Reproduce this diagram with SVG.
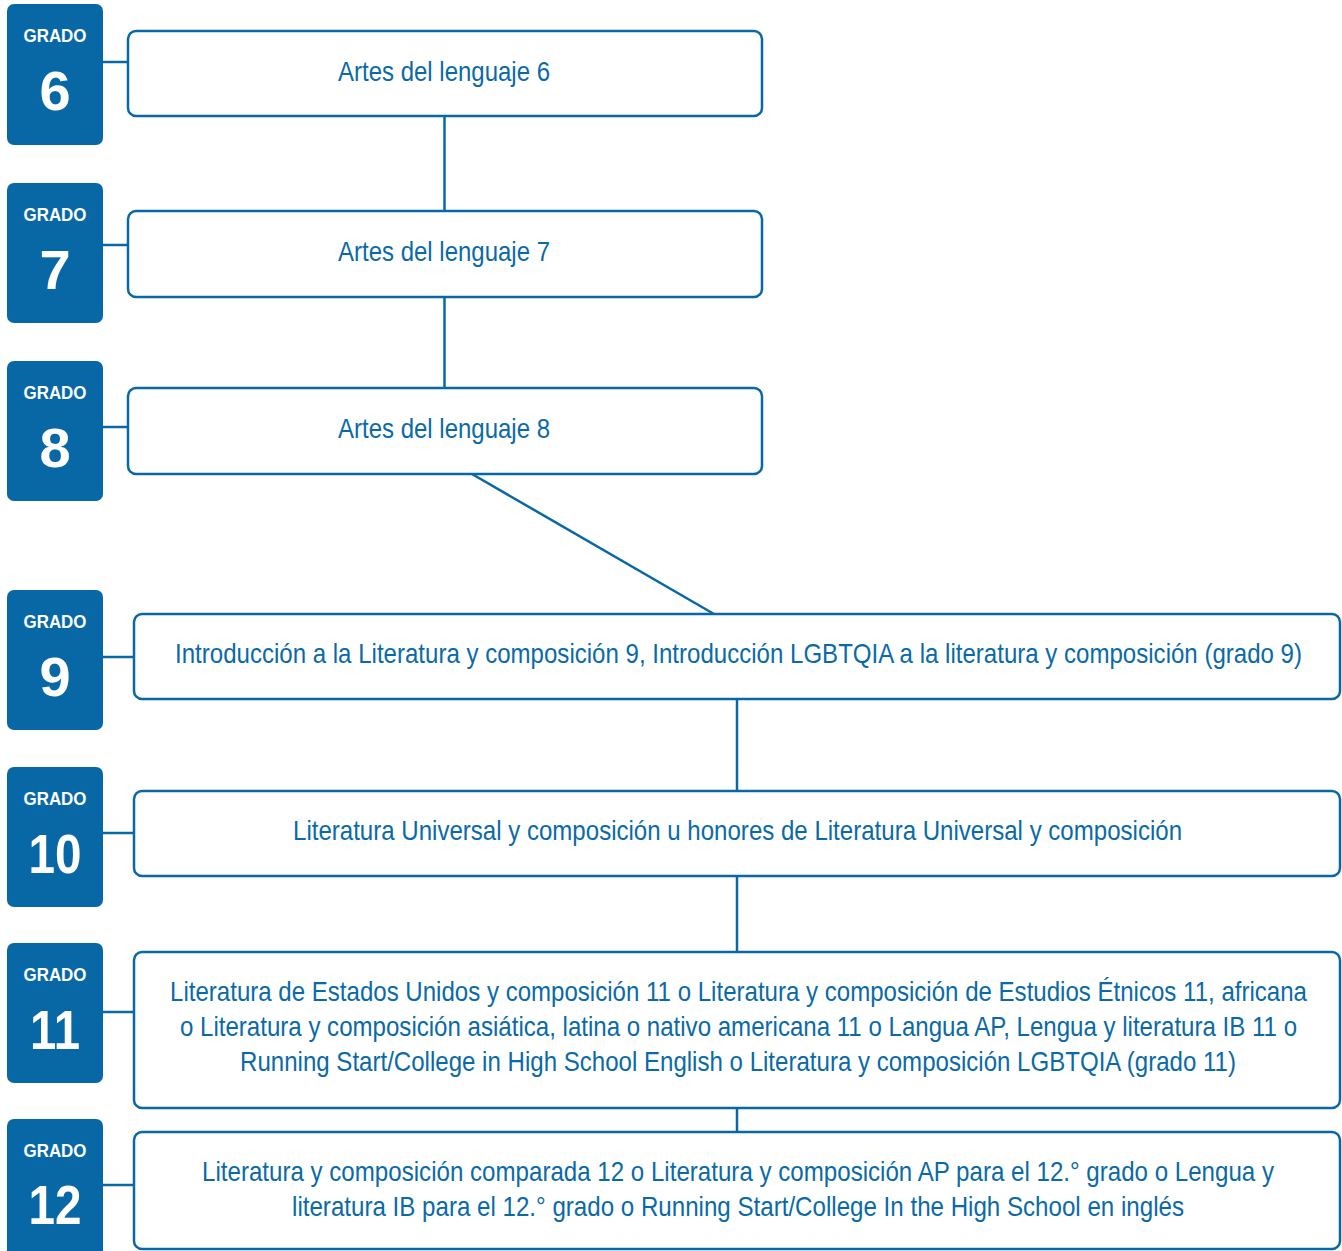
<svg xmlns="http://www.w3.org/2000/svg" width="1342" height="1251" viewBox="0 0 1342 1251">
<style>
.badge{fill:#0868a6}
.box{fill:#fff;stroke:#0868a6;stroke-width:2.5}
.con{stroke:#0868a6;stroke-width:2.5;fill:none}
.gr{font-family:"Liberation Sans",Arial,sans-serif;font-weight:bold;font-size:18px;fill:#fff;text-anchor:middle}
.num{font-family:"Liberation Sans",Arial,sans-serif;font-weight:bold;font-size:56px;fill:#fff;text-anchor:middle}
.t{font-family:"Liberation Sans",Arial,sans-serif;font-size:27px;fill:#0a6aa8;text-anchor:middle}
</style>
<rect width="1342" height="1251" fill="#fff"/>
<g id="connectors">
<line class="con" x1="103" y1="62" x2="128" y2="62"/>
<line class="con" x1="103" y1="245" x2="128" y2="245"/>
<line class="con" x1="103" y1="427" x2="128" y2="427"/>
<line class="con" x1="103" y1="657" x2="134" y2="657"/>
<line class="con" x1="103" y1="833" x2="134" y2="833"/>
<line class="con" x1="103" y1="1012" x2="134" y2="1012"/>
<line class="con" x1="103" y1="1185" x2="134" y2="1185"/>
<line class="con" x1="444.5" y1="116" x2="444.5" y2="211"/>
<line class="con" x1="444.5" y1="297" x2="444.5" y2="388"/>
<line class="con" x1="472" y1="474" x2="714" y2="614"/>
<line class="con" x1="737" y1="699" x2="737" y2="791"/>
<line class="con" x1="737" y1="876" x2="737" y2="952"/>
<line class="con" x1="737" y1="1108" x2="737" y2="1132"/>
</g>
<g id="grade6"><rect class="badge" x="7" y="4" width="96" height="141" rx="7"/><text class="gr" x="55" y="42" textLength="63" lengthAdjust="spacingAndGlyphs">GRADO</text><text class="num" x="55" y="110">6</text></g>
<g id="grade7"><rect class="badge" x="7" y="183" width="96" height="140" rx="7"/><text class="gr" x="55" y="221" textLength="63" lengthAdjust="spacingAndGlyphs">GRADO</text><text class="num" x="55" y="289">7</text></g>
<g id="grade8"><rect class="badge" x="7" y="361" width="96" height="140" rx="7"/><text class="gr" x="55" y="399" textLength="63" lengthAdjust="spacingAndGlyphs">GRADO</text><text class="num" x="55" y="467">8</text></g>
<g id="grade9"><rect class="badge" x="7" y="590" width="96" height="140" rx="7"/><text class="gr" x="55" y="628" textLength="63" lengthAdjust="spacingAndGlyphs">GRADO</text><text class="num" x="55" y="696">9</text></g>
<g id="grade10"><rect class="badge" x="7" y="767" width="96" height="140" rx="7"/><text class="gr" x="55" y="805" textLength="63" lengthAdjust="spacingAndGlyphs">GRADO</text><text class="num" x="55" y="873" textLength="53" lengthAdjust="spacingAndGlyphs">10</text></g>
<g id="grade11"><rect class="badge" x="7" y="943" width="96" height="140" rx="7"/><text class="gr" x="55" y="981" textLength="63" lengthAdjust="spacingAndGlyphs">GRADO</text><text class="num" x="55" y="1049" textLength="50" lengthAdjust="spacingAndGlyphs">11</text></g>
<g id="grade12"><rect class="badge" x="7" y="1119" width="96" height="150" rx="7"/><text class="gr" x="55" y="1157" textLength="63" lengthAdjust="spacingAndGlyphs">GRADO</text><text class="num" x="55" y="1224" textLength="53" lengthAdjust="spacingAndGlyphs">12</text></g>
<g id="course6"><rect class="box" x="128" y="31" width="634" height="85" rx="8"/><text class="t" transform="translate(444,81) scale(0.89,1)" textLength="238.2" lengthAdjust="spacingAndGlyphs">Artes del lenguaje 6</text></g>
<g id="course7"><rect class="box" x="128" y="211" width="634" height="86" rx="8"/><text class="t" transform="translate(444,261) scale(0.89,1)" textLength="238.2" lengthAdjust="spacingAndGlyphs">Artes del lenguaje 7</text></g>
<g id="course8"><rect class="box" x="128" y="388" width="634" height="86" rx="8"/><text class="t" transform="translate(444,438) scale(0.89,1)" textLength="238.2" lengthAdjust="spacingAndGlyphs">Artes del lenguaje 8</text></g>
<g id="course9"><rect class="box" x="134" y="614" width="1206" height="85" rx="8"/><text class="t" transform="translate(738.5,663) scale(0.89,1)" textLength="1266.3" lengthAdjust="spacingAndGlyphs">Introducción a la Literatura y composición 9, Introducción LGBTQIA a la literatura y composición (grado 9)</text></g>
<g id="course10"><rect class="box" x="134" y="791" width="1206" height="85" rx="8"/><text class="t" transform="translate(737.5,840) scale(0.89,1)" textLength="998.9" lengthAdjust="spacingAndGlyphs">Literatura Universal y composición u honores de Literatura Universal y composición</text></g>
<g id="course11"><rect class="box" x="134" y="952" width="1206" height="156" rx="8"/>
<text class="t" transform="translate(738.5,1001) scale(0.89,1)" textLength="1277.5" lengthAdjust="spacingAndGlyphs">Literatura de Estados Unidos y composición 11 o Literatura y composición de Estudios Étnicos 11, africana</text>
<text class="t" transform="translate(738.5,1036) scale(0.89,1)" textLength="1255.1" lengthAdjust="spacingAndGlyphs">o Literatura y composición asiática, latina o nativo americana 11 o Langua AP, Lengua y literatura IB 11 o</text>
<text class="t" transform="translate(738,1071) scale(0.89,1)" textLength="1119.1" lengthAdjust="spacingAndGlyphs">Running Start/College in High School English o Literatura y composición LGBTQIA (grado 11)</text></g>
<g id="course12"><rect class="box" x="134" y="1132" width="1206" height="117" rx="8"/>
<text class="t" transform="translate(738,1181) scale(0.89,1)" textLength="1204.5" lengthAdjust="spacingAndGlyphs">Literatura y composición comparada 12 o Literatura y composición AP para el 12.° grado o Lengua y</text>
<text class="t" transform="translate(738,1216) scale(0.89,1)" textLength="1002.2" lengthAdjust="spacingAndGlyphs">literatura IB para el 12.° grado o Running Start/College In the High School en inglés</text></g>
</svg>
